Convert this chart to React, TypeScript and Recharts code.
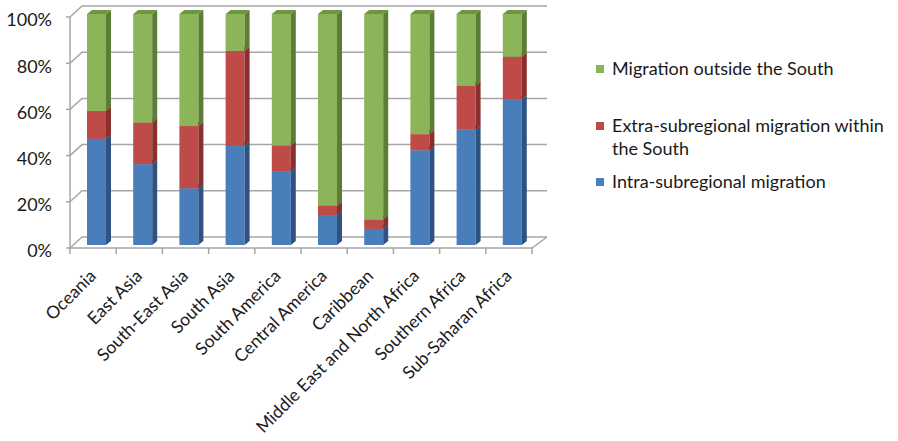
import { BarChart, Bar, XAxis, YAxis, CartesianGrid } from "recharts";

const CATEGORIES = [
  "Oceania",
  "East Asia",
  "South-East Asia",
  "South Asia",
  "South America",
  "Central America",
  "Caribbean",
  "Middle East and North Africa",
  "Southern Africa",
  "Sub-Saharan Africa",
];
const INTRA = [46, 35, 24.5, 43, 32, 13, 7, 41, 50, 63];
const EXTRA = [12, 18, 27, 41, 11, 4, 4, 7, 19, 18.5];
const OUTSIDE = [42, 47, 48.5, 16, 57, 83, 89, 52, 31, 18.5];
const Y_TICKS = [0, 20, 40, 60, 80, 100];

const SERIES = [
  { key: "intra", name: "Intra-subregional migration", front: "#4A7EBB", side: "#2E5382", top: "#3C679C" },
  { key: "extra", name: "Extra-subregional migration within the South", front: "#BE4B48", side: "#8A2F2D", top: "#9E3936" },
  { key: "outside", name: "Migration outside the South", front: "#8CB55A", side: "#5C7D35", top: "#6E9640" },
];

const data = CATEGORIES.map((name, i) => ({
  name,
  intra: INTRA[i],
  extra: EXTRA[i],
  outside: OUTSIDE[i],
}));

const FONT = "Lato, 'Open Sans', sans-serif";
const PLOT_W = 462;
const BAND = PLOT_W / CATEGORIES.length;

function Bar3D(props: any) {
  const { x, y, width, height, front, side, top } = props;
  if (!height || height <= 0) return <g />;
  const d = 5;
  const e = 4;
  const sx = x + 3;
  const sy = y - 3;
  return (
    <g>
      <rect x={sx} y={sy} width={width} height={height} fill={front} />
      <polygon
        points={`${sx + width},${sy} ${sx + width + d},${sy - e} ${sx + width + d},${sy + height - e} ${sx + width},${sy + height}`}
        fill={side}
      />
      <polygon
        points={`${sx},${sy} ${sx + d},${sy - e} ${sx + width + d},${sy - e} ${sx + width},${sy}`}
        fill={top}
      />
    </g>
  );
}

function GridLine(p: any) {
  const back = p.y1 - 11;
  const isFloor = p.y1 >= p.y + p.height - 1;
  return (
    <g key={p.key}>
      <polyline
        points={`${p.x1},${p.y1} ${p.x1 + 12},${back} ${p.x2 + 15},${back}`}
        fill="none"
        stroke="#A6A6A6"
        strokeWidth={1.5}
      />
      {isFloor && (
        <polyline
          points={`${p.x1},${p.y1} ${p.x2},${p.y1} ${p.x2 + 15},${back}`}
          fill="none"
          stroke="#A6A6A6"
          strokeWidth={1.5}
        />
      )}
    </g>
  );
}

function XTick(props: any) {
  const { x, y, payload, index } = props;
  const left = x - BAND / 2;
  const ax = x + 4;
  const ay = y + 29;
  return (
    <g>
      <line x1={left} y1={y} x2={left} y2={y + 6} stroke="#A6A6A6" strokeWidth={1.5} />
      {index === CATEGORIES.length - 1 && (
        <line x1={x + BAND / 2} y1={y} x2={x + BAND / 2} y2={y + 6} stroke="#A6A6A6" strokeWidth={1.5} />
      )}
      <text
        x={ax}
        y={ay}
        textAnchor="end"
        transform={`rotate(-45, ${ax}, ${ay})`}
        fill="#1a1a1a"
        fontSize={17.5}
        fontFamily={FONT}
      >
        {payload.value}
      </text>
    </g>
  );
}

function YTick(props: any) {
  const { x, y, payload } = props;
  return (
    <text x={x} y={y + 3} dy="0.355em" textAnchor="end" fill="#1a1a1a" fontSize={18} fontFamily={FONT}>
      {`${payload.value}%`}
    </text>
  );
}

const LEGEND_TOPS = [57, 114, 170];

function LegendBox() {
  const items = [...SERIES].reverse();
  return (
    <div style={{ position: "absolute", left: 0, top: 0, fontFamily: FONT }}>
      {items.map((s, i) => (
        <div
          key={s.key}
          style={{
            position: "absolute",
            left: 596,
            top: LEGEND_TOPS[i],
            display: "flex",
            alignItems: "flex-start",
          }}
        >
          <span
            style={{
              display: "inline-block",
              width: 8,
              height: 8,
              background: s.front,
              marginTop: 8,
              marginRight: 8,
              flex: "none",
            }}
          />
          <span style={{ width: 288, fontSize: 18, lineHeight: "23px", color: "#1a1a1a" }}>{s.name}</span>
        </div>
      ))}
    </div>
  );
}

export default function App() {
  return (
    <div style={{ position: "absolute", left: 0, top: 0, width: 898, height: 441, background: "#fff" }}>
      <BarChart
        width={898}
        height={441}
        data={data}
        margin={{ top: 17, right: 366, bottom: 0, left: 0 }}
        barSize={19}
      >
        <CartesianGrid vertical={false} horizontal={(p: any) => <GridLine {...p} />} />
        <XAxis
          dataKey="name"
          interval={0}
          height={193}
          tickSize={0}
          tickMargin={0}
          axisLine={false}
          tick={<XTick />}
        />
        <YAxis
          type="number"
          domain={[0, 100]}
          ticks={Y_TICKS}
          width={70}
          tickSize={4}
          tickMargin={14}
          axisLine={{ stroke: "#A6A6A6", strokeWidth: 1.5 }}
          tickLine={{ stroke: "#A6A6A6", strokeWidth: 1.5 }}
          tick={<YTick />}
        />
        {SERIES.map((s) => (
          <Bar
            key={s.key}
            dataKey={s.key}
            name={s.name}
            stackId="a"
            fill={s.front}
            isAnimationActive={false}
            shape={(p: any) => <Bar3D {...p} front={s.front} side={s.side} top={s.top} />}
          />
        ))}
      </BarChart>
      <LegendBox />
    </div>
  );
}
